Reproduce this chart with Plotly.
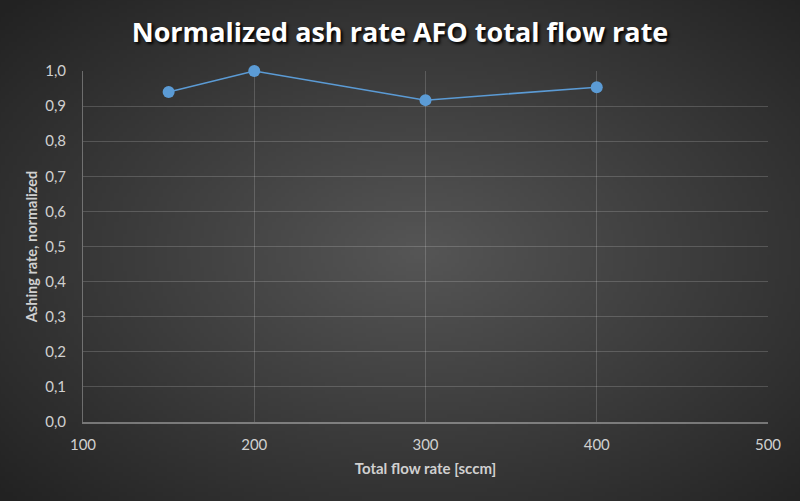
import base64
import struct
import zlib

import numpy as np
import plotly.graph_objects as go

# data
flow_rate = [150, 200, 300, 400]
ash_rate_norm = [0.940, 1.000, 0.917, 0.954]

x_ticks = [100, 200, 300, 400, 500]
y_ticks = [0.0, 0.1, 0.2, 0.3, 0.4, 0.5, 0.6, 0.7, 0.8, 0.9, 1.0]
y_labels = [f"{v:.1f}".replace(".", ",") for v in y_ticks]


def radial_png(w=200, h=125, inner=(86, 86, 86), outer=(34, 34, 34)):
    # dark radial gradient like the Excel chart style
    yy, xx = np.mgrid[0:h, 0:w]
    d = np.sqrt(((xx - w * 0.52) / (w / 2)) ** 2 + ((yy - h / 2) / (h / 2)) ** 2) / np.sqrt(2)
    d = np.clip(d, 0, 1)
    img = np.zeros((h, w, 3), dtype=np.uint8)
    for c in range(3):
        img[..., c] = (inner[c] + (outer[c] - inner[c]) * d).astype(np.uint8)
    raw = b"".join(b"\x00" + img[r].tobytes() for r in range(h))

    def chunk(tag, data):
        return struct.pack(">I", len(data)) + tag + data + struct.pack(">I", zlib.crc32(tag + data) & 0xffffffff)

    png = b"\x89PNG\r\n\x1a\n"
    png += chunk(b"IHDR", struct.pack(">IIBBBBB", w, h, 8, 2, 0, 0, 0))
    png += chunk(b"IDAT", zlib.compress(raw, 9))
    png += chunk(b"IEND", b"")
    return "data:image/png;base64," + base64.b64encode(png).decode()


W, H = 800, 501
ML, MR, MT, MB = 83, 32, 71, 79
pw, ph = W - ML - MR, H - MT - MB

fig = go.Figure()
fig.add_trace(go.Scatter(
    x=flow_rate, y=ash_rate_norm,
    mode="lines+markers",
    line=dict(color="#5B9BD5", width=1.5),
    marker=dict(color="#5B9BD5", size=12),
    cliponaxis=False,
    showlegend=False,
))

grid = "rgba(255,255,255,0.17)"
fig.update_layout(
    width=W, height=H,
    paper_bgcolor="#2b2b2b",
    plot_bgcolor="rgba(0,0,0,0)",
    margin=dict(l=ML, r=MR, t=MT, b=MB),
    font=dict(family="Lato, Open Sans, sans-serif", color="#d9d9d9", size=13),
    title=dict(
        text="<b>Normalized ash rate AFO total flow rate</b>",
        x=0.5, xanchor="center", y=1 - 33 / H, yanchor="middle",
        font=dict(family="Open Sans", size=27, color="#ffffff", shadow="2px 2px 3px #000"),
    ),
    images=[dict(
        source=radial_png(), xref="paper", yref="paper",
        x=-(ML + 5) / pw, y=1 + (MT + 5) / ph, sizex=(W + 10) / pw, sizey=(H + 10) / ph,
        xanchor="left", yanchor="top", sizing="stretch", layer="below",
    )],
)
fig.update_xaxes(
    range=[100, 500], tickvals=x_ticks, showgrid=True, gridcolor=grid,
    zeroline=False, showline=True, linecolor="rgba(255,255,255,0.35)", linewidth=1.5,
    ticks="", tickfont=dict(size=15, color="#d0d0d0"), ticklabelstandoff=8,
    title=dict(text="<b>Total flow rate [sccm]</b>", font=dict(size=15, color="#d0d0d0"), standoff=12),
)
fig.update_yaxes(
    range=[0, 1.0], tickvals=y_ticks, ticktext=y_labels, showgrid=True, gridcolor=grid,
    zeroline=False, showline=True, linecolor="rgba(255,255,255,0.3)", linewidth=1,
    ticks="", tickfont=dict(size=15, color="#d0d0d0"), ticklabelstandoff=13,
    title=dict(text="<b>Ashing rate, normalized</b>", font=dict(size=14.5, color="#d0d0d0"), standoff=4),
)

fig.write_html("out.html", config={"displayModeBar": False},
               post_script="document.body.style.margin='0';")
